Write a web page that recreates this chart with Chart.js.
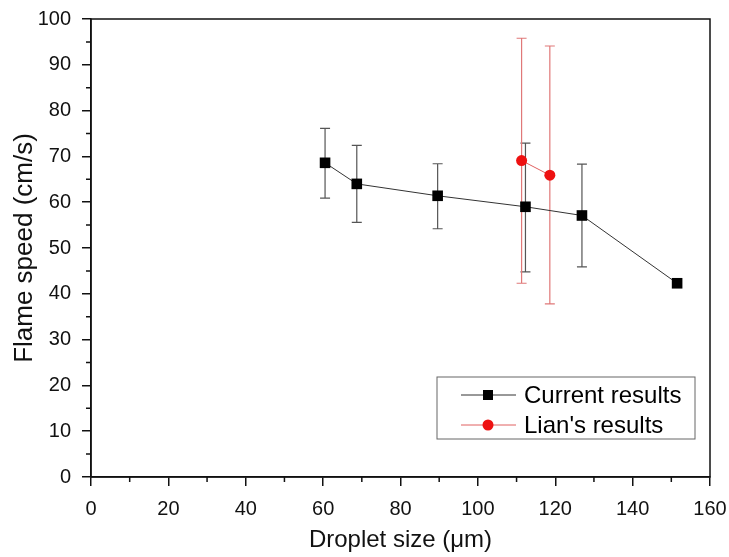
<!DOCTYPE html>
<html>
<head>
<meta charset="utf-8">
<script src="https://cdn.jsdelivr.net/npm/chart.js@4.4.1/dist/chart.umd.min.js"></script>
<style>
  body { margin: 0; background: #fff; }
  #wrap { width: 729px; height: 557px; }
</style>
</head>
<body>
<div id="wrap"><canvas id="flameChart" width="729" height="557"></canvas></div>
<script>
// droplet size (um) vs flame speed (cm/s)
const currentSize = [60.5, 68.7, 89.6, 112.3, 126.9, 151.5];
const currentSpeed = [68.6, 64.0, 61.4, 59.0, 57.1, 42.3];
const currentLow = [60.9, 55.6, 54.2, 44.8, 45.9, null];
const currentHigh = [76.1, 72.4, 68.4, 72.9, 68.3, null];

const lianSize = [111.3, 118.6];
const lianSpeed = [69.1, 65.9];
const lianLow = [42.3, 37.8];
const lianHigh = [95.8, 94.1];

const xTicks = [0, 20, 40, 60, 80, 100, 120, 140, 160];
const yTicks = [0, 10, 20, 30, 40, 50, 60, 70, 80, 90, 100];

const FONT = 'Liberation Sans, Arial, sans-serif';

function points(xs, ys) {
   return xs.map((x, i) => ({ x: x, y: ys[i] }));
}

// error bars, frame, minor ticks and the in-plot legend
const extras = {
   id: 'extras',
   beforeDatasetsDraw(chart) {
      const ctx = chart.ctx;
      const x = chart.scales.x, y = chart.scales.y;
      const bars = [
         { xs: currentSize, lo: currentLow, hi: currentHigh, color: '#555' },
         { xs: lianSize, lo: lianLow, hi: lianHigh, color: '#e07878' }
      ];
      ctx.save();
      ctx.lineWidth = 1.2;
      bars.forEach(b => {
         ctx.strokeStyle = b.color;
         b.xs.forEach((v, i) => {
            if (b.lo[i] == null) return;
            const px = x.getPixelForValue(v);
            const top = y.getPixelForValue(b.hi[i]);
            const bot = y.getPixelForValue(b.lo[i]);
            ctx.beginPath();
            ctx.moveTo(px, top); ctx.lineTo(px, bot);
            ctx.moveTo(px - 5, top); ctx.lineTo(px + 5, top);
            ctx.moveTo(px - 5, bot); ctx.lineTo(px + 5, bot);
            ctx.stroke();
         });
      });
      ctx.restore();
   },
   afterDraw(chart) {
      const ctx = chart.ctx;
      const a = chart.chartArea;
      const x = chart.scales.x, y = chart.scales.y;
      ctx.save();
      ctx.strokeStyle = '#111';
      ctx.lineWidth = 1.5;
      ctx.strokeRect(a.left, a.top, a.right - a.left, a.bottom - a.top);

      // minor ticks
      ctx.beginPath();
      for (let i = 0; i < xTicks.length - 1; i++) {
         const px = x.getPixelForValue((xTicks[i] + xTicks[i + 1]) / 2);
         ctx.moveTo(px, a.bottom); ctx.lineTo(px, a.bottom + 5);
      }
      for (let i = 0; i < yTicks.length - 1; i++) {
         const py = y.getPixelForValue((yTicks[i] + yTicks[i + 1]) / 2);
         ctx.moveTo(a.left, py); ctx.lineTo(a.left - 5, py);
      }
      ctx.stroke();

      // legend
      const bx = a.right - 273, by = a.bottom - 100, bw = 258, bh = 62;
      ctx.lineWidth = 1;
      ctx.strokeStyle = '#666';
      ctx.strokeRect(bx, by, bw, bh);
      ctx.font = '24px ' + FONT;
      ctx.textBaseline = 'middle';
      ctx.fillStyle = '#000';
      chart.data.datasets.forEach((ds, i) => {
         const ly = by + 18 + i * 30;
         ctx.strokeStyle = ds.borderColor;
         ctx.lineWidth = 1;
         ctx.beginPath();
         ctx.moveTo(bx + 24, ly); ctx.lineTo(bx + 79, ly);
         ctx.stroke();
         ctx.fillStyle = ds.pointBackgroundColor;
         if (ds.pointStyle === 'rect') {
            ctx.fillRect(bx + 51 - 5, ly - 5, 10, 10);
         } else {
            ctx.beginPath();
            ctx.arc(bx + 51, ly, 5.5, 0, Math.PI * 2);
            ctx.fill();
         }
         ctx.fillStyle = '#000';
         ctx.fillText(ds.label, bx + 87, ly + 1);
      });
      ctx.restore();
   }
};

new Chart(document.getElementById('flameChart'), {
   type: 'line',
   data: {
      datasets: [
         {
            label: 'Current results',
            data: points(currentSize, currentSpeed),
            borderColor: '#333',
            borderWidth: 1,
            pointStyle: 'rect',
            pointRadius: 7.5,
            pointBackgroundColor: '#000',
            pointBorderColor: '#000',
            pointBorderWidth: 0
         },
         {
            label: "Lian's results",
            data: points(lianSize, lianSpeed),
            borderColor: '#e06060',
            borderWidth: 1,
            pointStyle: 'circle',
            pointRadius: 5.5,
            pointBackgroundColor: '#ee1111',
            pointBorderColor: '#ee1111',
            pointBorderWidth: 0
         }
      ]
   },
   options: {
      responsive: false,
      animation: false,
      layout: { padding: { top: 19, right: 19, left: 0, bottom: 0 } },
      plugins: { legend: { display: false }, tooltip: { enabled: false } },
      scales: {
         x: {
            type: 'linear',
            min: 0, max: 160,
            afterBuildTicks: s => { s.ticks = xTicks.map(v => ({ value: v })); },
            afterFit: s => { s.height = 80; s.paddingLeft = 0; s.paddingRight = 0; },
            grid: { drawOnChartArea: false, tickLength: 9, color: '#111', lineWidth: 1.5 },
            border: { color: '#111', width: 1.5 },
            ticks: { color: '#111', font: { family: FONT, size: 20 }, padding: 11, maxRotation: 0 },
            title: { display: true, text: 'Droplet size (\u03bcm)', color: '#111',
                     font: { family: FONT, size: 24 }, padding: { top: 0, bottom: 2 } }
         },
         y: {
            type: 'linear',
            min: 0, max: 100,
            afterBuildTicks: s => { s.ticks = yTicks.map(v => ({ value: v })); },
            afterFit: s => { s.width = 91; s.paddingTop = 0; s.paddingBottom = 0; },
            grid: { drawOnChartArea: false, tickLength: 9, color: '#111', lineWidth: 1.5 },
            border: { color: '#111', width: 1.5 },
            ticks: { color: '#111', font: { family: FONT, size: 20 }, padding: 11 },
            title: { display: true, text: 'Flame speed (cm/s)', color: '#111',
                     font: { family: FONT, size: 26 }, padding: { top: 9, bottom: 0 } }
         }
      }
   },
   plugins: [extras]
});
</script>
</body>
</html>
